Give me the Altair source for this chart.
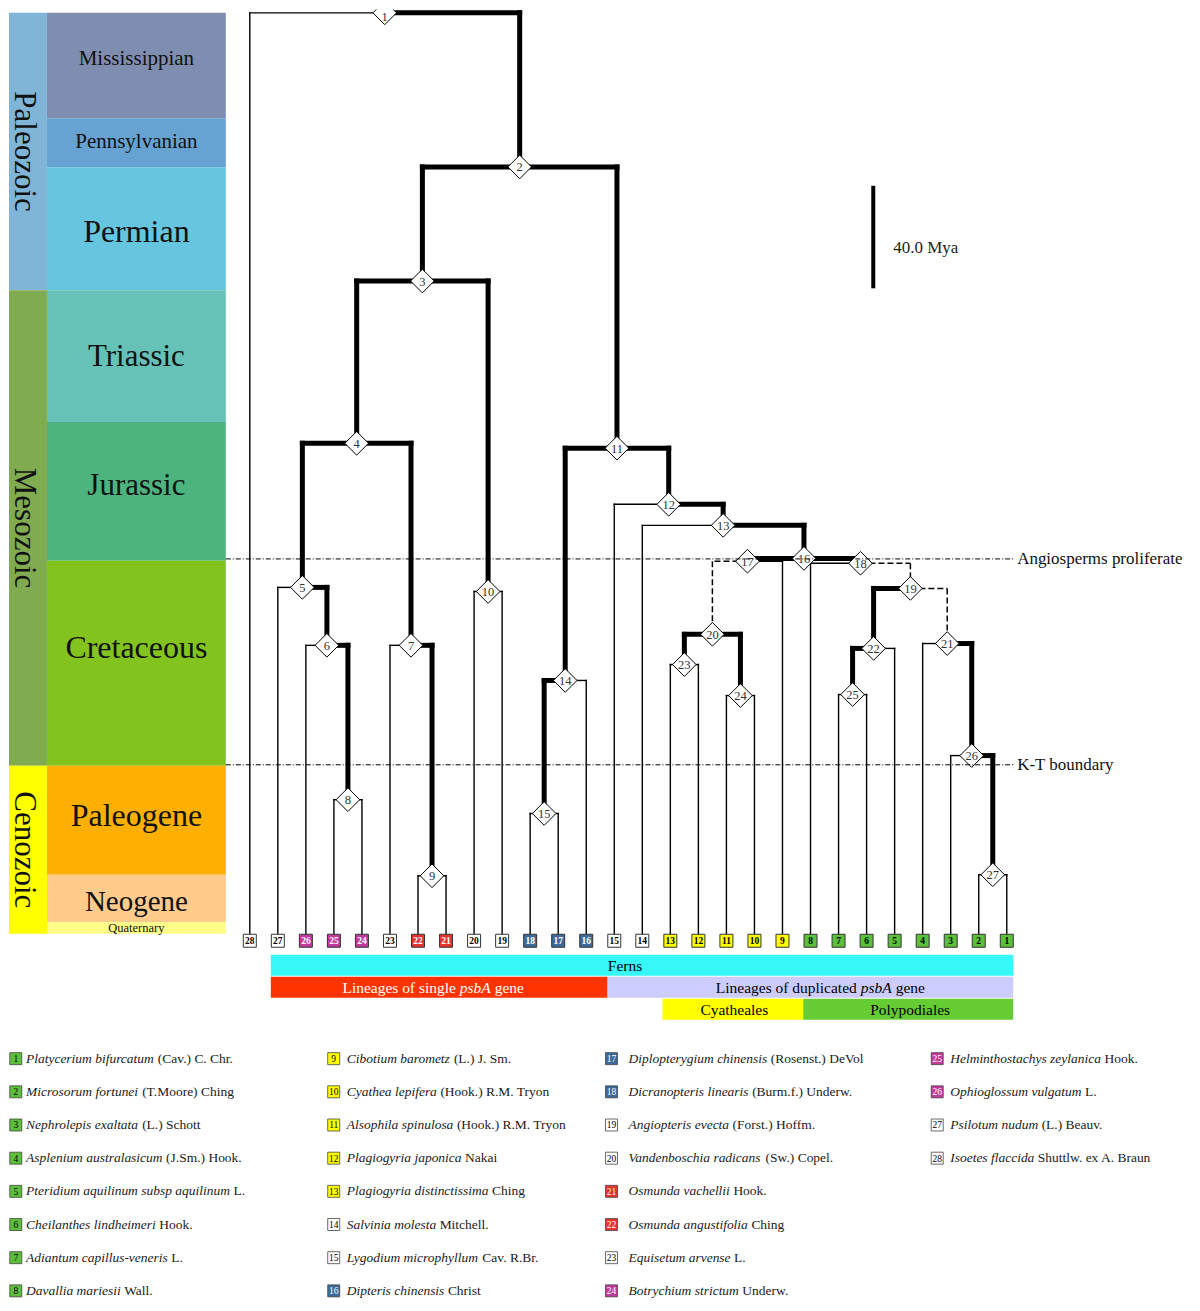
import altair as alt
import pandas as pd

FONT = "Liberation Serif"

# ------------------------------------------------------------------ data
leaf_order = [28, 27, 26, 25, 24, 23, 22, 21, 20, 19, 18, 17, 16, 15, 14,
              13, 12, 11, 10, 9, 8, 7, 6, 5, 4, 3, 2, 1]

# colour class of leaves 1..28
leaf_class = (["Polypodiales"] * 8 + ["Cyatheales"] * 5 + ["none"] * 2 +
              ["Gleicheniales"] * 3 + ["none"] * 2 + ["Osmundaceae"] * 2 +
              ["none"] + ["Ophioglossaceae"] * 3 + ["none"] * 2)

# ages (Mya) of internal nodes 1..27
node_age = [359.2, 299.1, 254.6, 191.3, 135.1, 112.5, 112.5, 52.3, 22.6,
            133.5, 189.4, 167.5, 159.3, 98.8, 46.9, 146.4, 145.3, 144.5,
            134.7, 116.8, 113.2, 111.3, 105.0, 92.9, 93.3, 69.5, 23.0]

edge_parent = [1, 1, 2, 2, 3, 3, 4, 4, 5, 5,
               6, 6, 8, 8, 7, 7, 9, 9, 10, 10,
               11, 11, 14, 14, 15, 15, 12, 12, 13, 13,
               16, 16, 17, 17, 18, 18, 19, 19, 22, 22,
               25, 25, 21, 21, 26, 26, 27, 27, 20, 20,
               23, 23, 24, 24]
edge_child = ["L28", "N2", "N3", "N11", "N4", "N10", "N5", "N7", "L27", "N6",
              "L26", "N8", "L25", "L24", "L23", "N9", "L22", "L21", "L20", "L19",
              "N14", "N12", "N15", "L16", "L18", "L17", "L15", "N13", "L14", "N16",
              "N17", "N18", "N20", "L9", "L8", "N19", "N22", "N21", "N25", "L5",
              "L7", "L6", "L4", "N26", "L3", "N27", "L2", "L1", "N23", "N24",
              "L13", "L12", "L11", "L10"]
edge_style = ["thin", "thick", "thick", "thick", "thick", "thick", "thick", "thick", "thin", "thick",
              "thin", "thick", "thin", "thin", "thin", "thick", "thin", "thin", "thin", "thin",
              "thick", "thick", "thick", "thin", "thin", "thin", "thin", "thick", "thin", "thick",
              "thick", "thick", "dashed", "thin", "thin", "dashed", "thick", "dashed", "thick", "thin",
              "thin", "thin", "thin", "thick", "thin", "thick", "thin", "thin", "thick", "thick",
              "thin", "thin", "thin", "thin"]

species = [
    "Platycerium bifurcatum", "Microsorum fortunei", "Nephrolepis exaltata",
    "Asplenium australasicum", "Pteridium aquilinum subsp aquilinum",
    "Cheilanthes lindheimeri", "Adiantum capillus-veneris", "Davallia mariesii",
    "Cibotium barometz", "Cyathea lepifera", "Alsophila spinulosa",
    "Plagiogyria japonica", "Plagiogyria distinctissima", "Salvinia molesta",
    "Lygodium microphyllum", "Dipteris chinensis", "Diplopterygium chinensis",
    "Dicranopteris linearis", "Angiopteris evecta", "Vandenboschia radicans",
    "Osmunda vachellii", "Osmunda angustifolia", "Equisetum arvense",
    "Botrychium strictum", "Helminthostachys zeylanica", "Ophioglossum vulgatum",
    "Psilotum nudum", "Isoetes flaccida"]
authors = [
    "(Cav.) C. Chr.", "(T.Moore) Ching", "(L.) Schott", "(J.Sm.) Hook.", "L.",
    "Hook.", "L.", "Wall.", "(L.) J. Sm.", "(Hook.) R.M. Tryon",
    "(Hook.) R.M. Tryon", "Nakai", "Ching", "Mitchell.", "Cav. R.Br.", "Christ",
    "(Rosenst.) DeVol", "(Burm.f.) Underw.", "(Forst.) Hoffm.", "(Sw.) Copel.",
    "Hook.", "Ching", "L.", "Underw.", "Hook.", "L.", "(L.) Beauv.",
    "Shuttlw. ex A. Braun"]

periods = ["Mississippian", "Pennsylvanian", "Permian", "Triassic", "Jurassic",
           "Cretaceous", "Paleogene", "Neogene", "Quaternary"]
period_old = [359.2, 318.1, 299.0, 251.0, 199.6, 145.5, 65.5, 23.0, 4.5]
period_young = [318.1, 299.0, 251.0, 199.6, 145.5, 65.5, 23.0, 4.5, 0.0]
eras = ["Paleozoic", "Mesozoic", "Cenozoic"]
era_old = [359.2, 251.0, 65.5]
era_young = [251.0, 65.5, 0.0]

events = ["Angiosperms proliferate", "K-T boundary"]
event_age = [146.2, 65.9]
scale_bar_mya = 40.0
scale_bar_label = "40.0 Mya"

lineages = ["Ferns", "Lineages of single psbA gene", "Lineages of duplicated psbA gene",
            "Cyatheales", "Polypodiales"]
lineage_from = [0.75, 0.75, 12.76, 14.72, 19.74]   # in leaf-slot units
lineage_to = [27.23, 12.76, 27.23, 19.74, 27.23]
lineage_row = [0, 1, 1, 2, 2]
ITALIC_WORD = "psbA"

# ------------------------------------------------------------------ styles
class_fill = {"Polypodiales": "#5cbf3a", "Cyatheales": "#ffff00", "none": "#ffffff",
              "Gleicheniales": "#3c6b9b", "Osmundaceae": "#e5332e",
              "Ophioglossaceae": "#c23a9c"}
class_text = {"Polypodiales": "#000000", "Cyatheales": "#000000", "none": "#000000",
              "Gleicheniales": "#ffffff", "Osmundaceae": "#ffffff",
              "Ophioglossaceae": "#ffffff"}
period_fill = ["#7f8eb0", "#66a3d2", "#66c5df", "#66c2b7", "#4eb47f",
               "#82c31e", "#feb000", "#fecb8b", "#ffff88"]
era_fill = ["#80b5d8", "#80ab50", "#ffff00"]
period_fs = [21, 21, 32, 31, 31, 32, 32, 29, 12.5]
period_label_dy = [-7, -1, 3, 1, -5, -15, -4, 3, 0]
ERA_FS = 31
lineage_fill = ["#36f8f8", "#ff3300", "#ccccff", "#ffff00", "#66cc33"]
lineage_tc = ["#000000", "#ffffff", "#000000", "#000000", "#000000"]
lineage_shift_px = [-17, -6, 10, 1.5, 2]
LIN_FS = 15.5
LEG_FS = 13.5
NODE_FS = 12.5

# ------------------------------------------------------------------ layout
PAGE = 8
W = 1184
LEAF0_PX, LEAF_STEP_PX = 249.0, 28.06
PRESENT_PY, PX_PER_MYA = 933.0, 2.566
TREE_TOP, TREE_BOTTOM = 8, 948
LIN_TOP, LIN_BOTTOM, LIN_ROW0, LIN_ROW_PX = 948, 1026, 954, 22.0
LEG_H, LEG_ROW0, LEG_ROW_PX = 271, 32.0, 33.2
COL_BOX = [14.8, 333, 611, 937]
COL_TEXT = [25, 346, 628, 950]


def px2leaf(px):
    return (px - LEAF0_PX) / LEAF_STEP_PX


def py2age(py):
    return (PRESENT_PY - py) / PX_PER_MYA


# Times metrics (Liberation Serif is metric compatible)
_UP = "ABCDEFGHIJKLMNOPQRSTUVWXYZ"
_LO = "abcdefghijklmnopqrstuvwxyz"
W_ITALIC = dict(zip(_UP, [611, 611, 667, 722, 611, 611, 722, 722, 333, 444, 667, 556, 833,
                          667, 722, 611, 722, 611, 500, 556, 722, 611, 833, 611, 556, 556]))
W_ITALIC.update(zip(_LO, [500, 500, 444, 500, 444, 278, 500, 500, 278, 278, 444, 278, 722,
                          500, 500, 500, 500, 389, 389, 278, 500, 444, 667, 444, 444, 389]))
W_ROMAN = dict(zip(_UP, [722, 667, 667, 722, 611, 556, 722, 722, 333, 389, 722, 611, 889,
                         722, 722, 556, 722, 667, 556, 611, 722, 722, 944, 722, 722, 611]))
W_ROMAN.update(zip(_LO, [444, 500, 444, 500, 444, 333, 500, 500, 278, 278, 500, 278, 778,
                         500, 500, 500, 500, 333, 389, 278, 500, 500, 722, 500, 500, 444]))
for _t in (W_ITALIC, W_ROMAN):
    _t.update({" ": 250, ".": 250, "(": 333, ")": 333, "-": 333})


def text_w(s, size, italic=False):
    tab = W_ITALIC if italic else W_ROMAN
    return sum(tab.get(c, 500) for c in s) * size / 1000.0


# ------------------------------------------------------------------ tree geometry
def node_x(name):
    if name[0] == "L":
        return float(leaf_order.index(int(name[1:])))
    kids = [c for p, c in zip(edge_parent, edge_child) if p == int(name[1:])]
    return sum(node_x(k) for k in kids) / len(kids)


def node_t(name):
    return 0.0 if name[0] == "L" else node_age[int(name[1:]) - 1]


seg_rows = []
for p, c, s in zip(edge_parent, edge_child, edge_style):
    px_, pt = node_x("N%d" % p), node_t("N%d" % p)
    cx, ct = node_x(c), node_t(c)
    seg_rows.append(dict(x=px_, x2=cx, y=pt, y2=pt, style=s))
    seg_rows.append(dict(x=cx, x2=cx, y=pt, y2=ct, style=s))
seg_df = pd.DataFrame(seg_rows)

# keep node numbers fully inside the plot area (only affects the root label)
LABEL_MAX_AGE = py2age(TREE_TOP + NODE_FS / 2 + 1.0)
node_df = pd.DataFrame({
    "label": [str(i) for i in range(1, 28)],
    "x": [node_x("N%d" % i) for i in range(1, 28)],
    "t": node_age,
    "lt": [min(a, LABEL_MAX_AGE) for a in node_age],
})

LEAF_BOX_AGE = py2age(940)
leaf_df = pd.DataFrame({
    "label": [str(k) for k in leaf_order],
    "x": [float(i) for i in range(len(leaf_order))],
    "t": [LEAF_BOX_AGE] * len(leaf_order),
    "fill": [class_fill[leaf_class[k - 1]] for k in leaf_order],
    "tc": [class_text[leaf_class[k - 1]] for k in leaf_order],
})

geo_df = pd.DataFrame({
    "name": periods + eras,
    "old": period_old + era_old,
    "young": period_young + era_young,
    "x0": [px2leaf(46)] * len(periods) + [px2leaf(PAGE)] * len(eras),
    "x1": [px2leaf(225)] * len(periods) + [px2leaf(46)] * len(eras),
    "lx": [px2leaf(135.5)] * len(periods) + [px2leaf(23)] * len(eras),
    "fill": period_fill + era_fill,
    "fs": period_fs + [ERA_FS] * len(eras),
    "dy": period_label_dy + [0] * len(eras),
    "kind": ["period"] * len(periods) + ["era"] * len(eras),
})
geo_df["mid"] = (geo_df["old"] + geo_df["young"]) / 2 - geo_df["dy"] / PX_PER_MYA

event_df = pd.DataFrame({
    "name": events, "t": event_age,
    "x0": [px2leaf(225)] * 2, "x1": [px2leaf(1013)] * 2, "lx": [px2leaf(1017)] * 2,
})

bar_base = py2age(287)
scale_df = pd.DataFrame({
    "x": [px2leaf(873)], "t0": [bar_base], "t1": [bar_base + scale_bar_mya],
    "lx": [px2leaf(893)], "lt": [py2age(247)], "label": [scale_bar_label],
})

XS = alt.Scale(domain=[px2leaf(PAGE), px2leaf(PAGE + W)], nice=False, zero=False)
YS = alt.Scale(domain=[py2age(TREE_BOTTOM), py2age(TREE_TOP)], nice=False, zero=False)


def X(f):
    return alt.X(f, type="quantitative", scale=XS, axis=None)


def Y(f):
    return alt.Y(f, type="quantitative", scale=YS, axis=None)


geo_rect = alt.Chart(geo_df).mark_rect(strokeWidth=0).encode(
    x=X("x0"), x2="x1", y=Y("old"), y2="young", color=alt.Color("fill:N", scale=None))
period_txt = alt.Chart(geo_df).transform_filter(alt.datum.kind == "period").mark_text(
    font=FONT, align="center", baseline="middle", color="#111111").encode(
    x=X("lx"), y=Y("mid"), text="name:N", size=alt.Size("fs:Q", scale=None))
era_txt = alt.Chart(geo_df).transform_filter(alt.datum.kind == "era").mark_text(
    font=FONT, align="center", baseline="middle", angle=90, color="#111111").encode(
    x=X("lx"), y=Y("mid"), text="name:N", size=alt.Size("fs:Q", scale=None))


def seg_layer(style, **kw):
    return alt.Chart(seg_df).transform_filter(alt.datum.style == style).mark_rule(
        color="black", **kw).encode(x=X("x"), x2="x2", y=Y("y"), y2="y2")


thin = seg_layer("thin", strokeWidth=1.4, strokeCap="square")
dashed = seg_layer("dashed", strokeWidth=1.5, strokeDash=[6, 3])
thick = seg_layer("thick", strokeWidth=5, strokeCap="square")

leaf_box = alt.Chart(leaf_df).mark_square(size=169, stroke="#333333", strokeWidth=1,
                                          opacity=1).encode(
    x=X("x"), y=Y("t"), fill=alt.Fill("fill:N", scale=None))
leaf_num = alt.Chart(leaf_df).mark_text(font=FONT, fontSize=9.5, fontWeight="bold",
                                        baseline="middle", dy=0.5).encode(
    x=X("x"), y=Y("t"), text="label:N", color=alt.Color("tc:N", scale=None))

diamonds = alt.Chart(node_df).mark_point(shape="diamond", size=560, filled=True,
                                         fill="white", stroke="black", strokeWidth=1,
                                         opacity=1, clip=True).encode(x=X("x"), y=Y("t"))
node_num = alt.Chart(node_df).mark_text(font=FONT, fontSize=NODE_FS, color="#333333",
                                        baseline="middle", dy=0.5).encode(
    x=X("x"), y=Y("lt"), text="label:N")

event_line = alt.Chart(event_df).mark_rule(color="black", strokeWidth=1,
                                           strokeDash=[5, 2, 1, 2]).encode(
    x=X("x0"), x2="x1", y=Y("t"))
event_txt = alt.Chart(event_df).mark_text(font=FONT, fontSize=17, align="left",
                                          baseline="middle", color="#111111").encode(
    x=X("lx"), y=Y("t"), text="name:N")

scale_bar = alt.Chart(scale_df).mark_rule(color="black", strokeWidth=4).encode(
    x=X("x"), y=Y("t0"), y2="t1")
scale_txt = alt.Chart(scale_df).mark_text(font=FONT, fontSize=17, align="left",
                                          baseline="middle", color="#222222").encode(
    x=X("lx"), y=Y("lt"), text="label:N")

tree = alt.layer(geo_rect, period_txt, era_txt, thin, dashed, thick, leaf_box, leaf_num,
                 diamonds, event_line, event_txt, node_num, scale_bar, scale_txt).properties(
    width=W, height=TREE_BOTTOM - TREE_TOP)

# ------------------------------------------------------------------ lineage bars
lin_df = pd.DataFrame({
    "label": lineages, "x0": lineage_from, "x1": lineage_to,
    "row": [float(r) for r in lineage_row],
    "row_end": [r + 21.0 / 22.0 for r in lineage_row],
    "fill": lineage_fill,
})
part_rows = []
for lab, a, b, r, tc, sh in zip(lineages, lineage_from, lineage_to, lineage_row,
                                lineage_tc, lineage_shift_px):
    if ITALIC_WORD in lab:
        pre, post = lab.split(ITALIC_WORD)
        runs = [(pre, False), (ITALIC_WORD, True), (post, False)]
    else:
        runs = [(lab, False)]
    total = sum(text_w(s, LIN_FS, it) for s, it in runs)
    start = (a + b) / 2 + sh / LEAF_STEP_PX - total / 2 / LEAF_STEP_PX
    for s, it in runs:
        lead = s[:len(s) - len(s.lstrip())]
        part_rows.append(dict(text=s.strip(), x=start + text_w(lead, LIN_FS, it) / LEAF_STEP_PX,
                              row=r + 0.5, italic=it, tc=tc))
        start += text_w(s, LIN_FS, it) / LEAF_STEP_PX
part_df = pd.DataFrame(part_rows)

YL = alt.Scale(domain=[(LIN_TOP - LIN_ROW0) / LIN_ROW_PX, (LIN_BOTTOM - LIN_ROW0) / LIN_ROW_PX],
               reverse=True, nice=False, zero=False)
lin_bar = alt.Chart(lin_df).mark_rect(strokeWidth=0).encode(
    x=X("x0"), x2="x1", y=alt.Y("row:Q", scale=YL, axis=None), y2="row_end:Q",
    color=alt.Color("fill:N", scale=None))


def part_layer(italic):
    return alt.Chart(part_df).transform_filter(alt.datum.italic == italic).mark_text(
        font=FONT, fontSize=LIN_FS, align="left", baseline="middle",
        fontStyle="italic" if italic else "normal").encode(
        x=X("x"), y=alt.Y("row:Q", scale=YL, axis=None), text="text:N",
        color=alt.Color("tc:N", scale=None))


lineage = alt.layer(lin_bar, part_layer(False), part_layer(True)).properties(
    width=W, height=LIN_BOTTOM - LIN_TOP)

# ------------------------------------------------------------------ species legend
leg_rows = []
for k in range(1, 29):
    col, row = (k - 1) // 8, (k - 1) % 8
    tx = COL_TEXT[col] - PAGE
    sp = species[k - 1]
    leg_rows.append(dict(
        num=str(k), row=float(row), bx=COL_BOX[col] - PAGE, tx=tx,
        ax=tx + text_w(sp, LEG_FS, True) + text_w(" ", LEG_FS),
        species=sp, author=authors[k - 1],
        fill=class_fill[leaf_class[k - 1]], tc=class_text[leaf_class[k - 1]]))
leg_df = pd.DataFrame(leg_rows)

XL = alt.Scale(domain=[0, W], nice=False, zero=False)
YG = alt.Scale(domain=[-LEG_ROW0 / LEG_ROW_PX, (LEG_H - LEG_ROW0) / LEG_ROW_PX],
               reverse=True, nice=False, zero=False)


def LX(f):
    return alt.X(f, type="quantitative", scale=XL, axis=None)


LY = alt.Y("row:Q", scale=YG, axis=None)

leg_box = alt.Chart(leg_df).mark_square(size=144, stroke="#444444", strokeWidth=0.8,
                                        opacity=1).encode(
    x=LX("bx"), y=LY, fill=alt.Fill("fill:N", scale=None))
leg_num = alt.Chart(leg_df).mark_text(font=FONT, fontSize=9.5, baseline="middle",
                                      dy=0.5).encode(
    x=LX("bx"), y=LY, text="num:N", color=alt.Color("tc:N", scale=None))
leg_sp = alt.Chart(leg_df).mark_text(font=FONT, fontSize=LEG_FS, fontStyle="italic",
                                     align="left", baseline="middle",
                                     color="#1a1a1a").encode(
    x=LX("tx"), y=LY, text="species:N")
leg_au = alt.Chart(leg_df).mark_text(font=FONT, fontSize=LEG_FS, align="left",
                                     baseline="middle", color="#1a1a1a").encode(
    x=LX("ax"), y=LY, text="author:N")

legend = alt.layer(leg_box, leg_num, leg_sp, leg_au).properties(width=W, height=LEG_H)

chart = alt.vconcat(tree, lineage, legend, spacing=0, bounds="flush", padding=0).configure_view(
    stroke=None)

chart.save("out.html", embed_options={"renderer": "svg", "actions": False})
